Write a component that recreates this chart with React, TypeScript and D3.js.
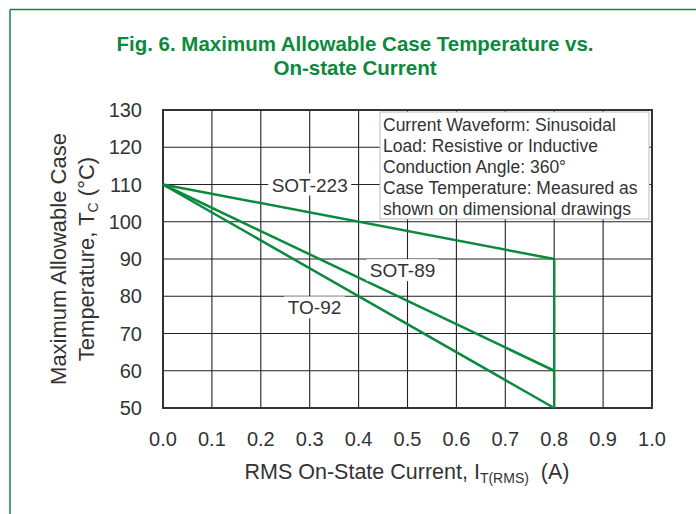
import React from "react";
import * as d3 from "d3";

const xTicks = [0, 0.1, 0.2, 0.3, 0.4, 0.5, 0.6, 0.7, 0.8, 0.9, 1.0];
const yTicks = [50, 60, 70, 80, 90, 100, 110, 120, 130];

const seriesNames = ["SOT-223", "SOT-89", "TO-92"];
const seriesCurrent = [
  [0, 0.8],
  [0, 0.8],
  [0, 0.8],
];
const seriesTemp = [
  [110, 90],
  [110, 60],
  [110, 50],
];
// label anchor positions in data units
const labelX = [0.3, 0.49, 0.31];
const labelY = [110, 87, 77];

const infoLines = [
  "Current Waveform: Sinusoidal",
  "Load: Resistive or Inductive",
  "Conduction Angle: 360°",
  "Case Temperature: Measured as",
  "shown on dimensional drawings",
];

const GREEN = "#0b8a3e";
const FONT = "'Liberation Sans', Arial, sans-serif";

export default function App() {
  const left = 163, right = 652, top = 110, bottom = 408;
  const x = d3.scaleLinear().domain([0, 1]).range([left, right]);
  const y = d3.scaleLinear().domain([50, 130]).range([bottom, top]);
  const line = d3
    .line<[number, number]>()
    .x((d) => x(d[0]))
    .y((d) => y(d[1]));

  const verticalEnd = d3.extent(seriesTemp.map((s) => s[1])) as [number, number];

  return (
    <svg
      width={696}
      height={514}
      style={{ position: "absolute", left: 0, top: 0, background: "#fff" }}
    >
      {/* frame */}
      <line x1={10} y1={9.5} x2={696} y2={9.5} stroke={GREEN} strokeWidth={1.5} />
      <line x1={10} y1={9.5} x2={10} y2={514} stroke={GREEN} strokeWidth={1.5} />

      {/* title */}
      <text
        x={355}
        y={51}
        textAnchor="middle"
        fill={GREEN}
        fontFamily={FONT}
        fontWeight="bold"
        fontSize={20.5}
        textLength={477}
        lengthAdjust="spacingAndGlyphs"
      >
        Fig. 6. Maximum Allowable Case Temperature vs.
      </text>
      <text
        x={355}
        y={75}
        textAnchor="middle"
        fill={GREEN}
        fontFamily={FONT}
        fontWeight="bold"
        fontSize={20.5}
        textLength={163}
        lengthAdjust="spacingAndGlyphs"
      >
        On-state Current
      </text>

      {/* grid */}
      {xTicks.map((t) => (
        <line key={"gx" + t} x1={x(t)} x2={x(t)} y1={top} y2={bottom} stroke="#222" strokeWidth={1.1} />
      ))}
      {yTicks.map((t) => (
        <line key={"gy" + t} x1={left} x2={right} y1={y(t)} y2={y(t)} stroke="#222" strokeWidth={1.1} />
      ))}
      <rect x={left} y={top} width={right - left} height={bottom - top} fill="none" stroke="#333" strokeWidth={2} />

      {/* info box */}
      <rect x={380} y={112} width={269} height={107} fill="#fff" stroke="#bbb" strokeWidth={1} />
      {infoLines.map((s, i) => (
        <text key={s} x={383} y={131 + i * 21} fontFamily={FONT} fontSize={17.5} fill="#333">
          {s}
        </text>
      ))}

      {/* series */}
      {seriesNames.map((n, i) => (
        <path
          key={n}
          d={line(seriesCurrent[i].map((c, j) => [c, seriesTemp[i][j]] as [number, number])) || ""}
          fill="none"
          stroke={GREEN}
          strokeWidth={2.5}
        />
      ))}
      <line
        x1={x(0.8)}
        x2={x(0.8)}
        y1={y(verticalEnd[1])}
        y2={y(verticalEnd[0])}
        stroke={GREEN}
        strokeWidth={2.5}
      />

      {/* series labels */}
      {seriesNames.map((n, i) => {
        const w = n.length * 11 + 6;
        return (
          <g key={"l" + n}>
            <rect x={x(labelX[i]) - w / 2} y={y(labelY[i]) - 11} width={w} height={22} fill="#fff" />
            <text
              x={x(labelX[i])}
              y={y(labelY[i]) + 7}
              textAnchor="middle"
              fontFamily={FONT}
              fontSize={19}
              fill="#333"
            >
              {n}
            </text>
          </g>
        );
      })}

      {/* tick labels */}
      {xTicks.map((t) => (
        <text key={"tx" + t} x={x(t)} y={446} textAnchor="middle" fontFamily={FONT} fontSize={20} fill="#333">
          {t.toFixed(1)}
        </text>
      ))}
      {yTicks.map((t) => (
        <text key={"ty" + t} x={142} y={y(t) + 7} textAnchor="end" fontFamily={FONT} fontSize={20} fill="#333">
          {t}
        </text>
      ))}

      {/* x title */}
      <text x={407} y={479} textAnchor="middle" fontFamily={FONT} fontSize={21.5} fill="#333">
        RMS On-State Current, I
        <tspan fontSize={14} dy={4}>T(RMS)</tspan>
        <tspan dy={-4}>{"\u00a0 (A)"}</tspan>
      </text>

      {/* y title */}
      <g transform={`translate(66, ${(top + bottom) / 2}) rotate(-90)`}>
        <text x={0} y={0} textAnchor="middle" fontFamily={FONT} fontSize={22} fill="#333">
          Maximum Allowable Case
        </text>
      </g>
      <g transform={`translate(94, ${(top + bottom) / 2}) rotate(-90)`}>
        <text x={0} y={0} textAnchor="middle" fontFamily={FONT} fontSize={22} fill="#333">
          Temperature, T
          <tspan fontSize={14} dy={4}>C</tspan>
          <tspan dy={-4}> (°C)</tspan>
        </text>
      </g>
    </svg>
  );
}
